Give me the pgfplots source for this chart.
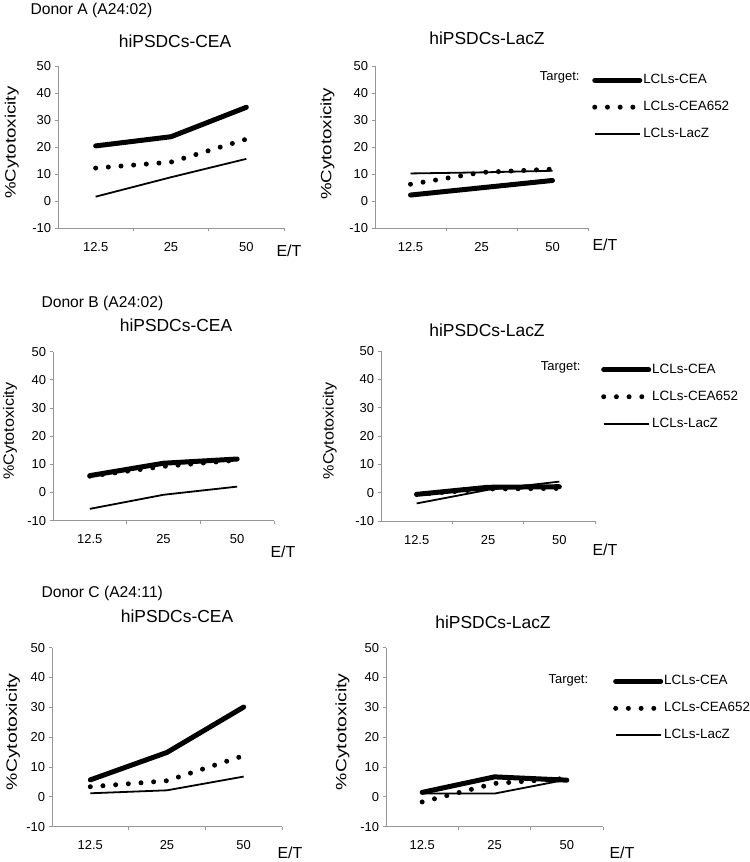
\documentclass[border=0pt]{standalone}
\usepackage{fontspec}
\setmainfont{Liberation Sans}
\usepackage{graphicx}
\usepackage{pgfplots}
\pgfplotsset{compat=1.18}
\definecolor{axgray}{RGB}{150,150,150}

\pgfplotsset{
  panel/.style={
    scale only axis,
    axis lines=left,
    axis line style={-, axgray, line width=0.8bp},
    xmin=0, xmax=3, ymin=-10, ymax=50,
    xtick={0.5,1.5,2.5},
    xticklabels={12.5,25,50},
    minor xtick={1,2,3},
    major x tick style={draw=none},
    minor x tick style={axgray, line width=0.8bp},
    ytick={-10,0,...,50},
    y tick style={axgray, line width=0.8bp},
    tick align=outside,
    major tick length=3.5bp,
    minor tick length=3.5bp,
    /pgf/number format/assume math mode=true,
    tick label style={font=\fontsize{13}{15}\selectfont},
    xticklabel style={yshift=-7bp},
    ylabel style={anchor=center, font=\fontsize{15}{17}\selectfont},
    clip=false,
    legend image code/.code={\draw[##1] (0bp,0bp) -- (45bp,0bp);},
    legend cell align=left,
    legend style={draw=none, fill=none, inner sep=0pt, row sep=12bp,
      nodes={inner sep=1bp, text height=10bp, text depth=3bp,
        font=\fontsize{13.5}{15}\selectfont}},
  },
  cea/.style={black, line width=5bp, line cap=round, line join=round},
  dots/.style={black, line width=5bp, line cap=round, dash pattern=on 0pt off 12.7bp},
  lacz/.style={black, line width=1.8bp, line join=round},
}

\begin{document}
\begin{tikzpicture}[x=1bp,y=1bp]
\useasboundingbox (0bp,0bp) rectangle (750bp,862bp);

% ---------- Donor A ----------
\node[anchor=west, font=\fontsize{15.7}{18}\selectfont] at (27bp,852bp) {Donor A (A24:02)};
\node[font=\fontsize{17.5}{20}\selectfont] at (175bp,821bp) {hiPSDCs-CEA};
\node[font=\fontsize{17.5}{20}\selectfont] at (487bp,824bp) {hiPSDCs-LacZ};

\begin{axis}[panel, at={(58bp,634bp)}, anchor=south west, width=226bp, height=162bp,
  ylabel={\scalebox{1.25}[1]{\%Cytotoxicity}},
  ylabel style={at={(axis description cs:-0.205,0.527)}}]
\addplot[cea]  coordinates {(0.5,20.4) (1.5,23.8) (2.5,34.7)};
\addplot[dots] coordinates {(0.5,12.2) (1.5,14.4) (2.5,22.9)};
\addplot[lacz] coordinates {(0.5,1.6) (1.5,8.8) (2.5,15.6)};
\end{axis}

\begin{axis}[panel, at={(375bp,634bp)}, anchor=south west, width=213bp, height=162bp,
  ylabel={\scalebox{1.25}[1]{\%Cytotoxicity}},
  ylabel style={at={(axis description cs:-0.223,0.52)}},
  legend style={at={(axis description cs:1.019,0.96)}, anchor=north west}]
\addplot[cea]  coordinates {(0.5,2.2) (1.5,4.9) (2.5,7.6)};
\addplot[dots] coordinates {(0.5,6.2) (1.5,10.6) (2.5,11.8)};
\addplot[lacz] coordinates {(0.5,10.2) (1.5,10.6) (2.5,11.2)};
\legend{LCLs-CEA,LCLs-CEA652,LCLs-LacZ}
\end{axis}
\node[anchor=east, font=\fontsize{13}{15}\selectfont] at (583bp,785bp) {Target:};
\node[font=\fontsize{16}{18}\selectfont] at (289bp,611bp) {E/T};
\node[font=\fontsize{16}{18}\selectfont] at (605bp,617bp) {E/T};

% ---------- Donor B ----------
\node[anchor=west, font=\fontsize{15.7}{18}\selectfont] at (38bp,559bp) {Donor B (A24:02)};
\node[font=\fontsize{17.5}{20}\selectfont] at (176bp,537bp) {hiPSDCs-CEA};
\node[font=\fontsize{17.5}{20}\selectfont] at (487bp,532bp) {hiPSDCs-LacZ};

\begin{axis}[panel, at={(53bp,341.3bp)}, anchor=south west, width=221bp, height=169bp,
  ylabel={\scalebox{1.08}[1]{\%Cytotoxicity}},
  ylabel style={at={(axis description cs:-0.195,0.53)}}]
\addplot[cea]  coordinates {(0.5,6.0) (1.5,10.4) (2.5,11.9)};
\addplot[dots] coordinates {(0.5,5.8) (1.5,9.3) (2.5,11.5)};
\addplot[lacz] coordinates {(0.5,-5.8) (1.5,-0.8) (2.5,2.1)};
\end{axis}

\begin{axis}[panel, at={(381bp,341bp)}, anchor=south west, width=214bp, height=170bp,
  ylabel={\scalebox{1.08}[1]{\%Cytotoxicity}},
  ylabel style={at={(axis description cs:-0.24,0.53)}},
  legend style={at={(axis description cs:1.028,0.935)}, anchor=north west}]
\addplot[cea]  coordinates {(0.5,-0.6) (1.5,1.9) (2.5,2.1)};
\addplot[dots] coordinates {(0.5,-0.6) (1.5,1.3) (2.5,1.5)};
\addplot[lacz] coordinates {(0.5,-3.8) (1.5,1.0) (2.5,3.9)};
\legend{LCLs-CEA,LCLs-CEA652,LCLs-LacZ}
\end{axis}
\node[anchor=east, font=\fontsize{13}{15}\selectfont] at (584bp,494.7bp) {Target:};
\node[font=\fontsize{16}{18}\selectfont] at (283bp,310bp) {E/T};
\node[font=\fontsize{16}{18}\selectfont] at (605bp,312bp) {E/T};

% ---------- Donor C ----------
\node[anchor=west, font=\fontsize{15.7}{18}\selectfont] at (38bp,269bp) {Donor C (A24:11)};
\node[font=\fontsize{17.5}{20}\selectfont] at (177bp,246bp) {hiPSDCs-CEA};
\node[font=\fontsize{17.5}{20}\selectfont] at (493bp,240bp) {hiPSDCs-LacZ};

\begin{axis}[panel, at={(52bp,35.3bp)}, anchor=south west, width=230bp, height=179bp,
  ylabel={\scalebox{1.3}[1]{\%Cytotoxicity}},
  ylabel style={at={(axis description cs:-0.17,0.53)}}]
\addplot[cea]  coordinates {(0.5,5.7) (1.5,14.9) (2.5,30.1)};
\addplot[dots] coordinates {(0.5,3.4) (1.5,5.4) (2.5,13.8)};
\addplot[lacz] coordinates {(0.5,1.2) (1.5,2.2) (2.5,6.8)};
\end{axis}

\begin{axis}[panel, at={(386bp,35.3bp)}, anchor=south west, width=217bp, height=179bp,
  ylabel={\scalebox{1.3}[1]{\%Cytotoxicity}},
  ylabel style={at={(axis description cs:-0.2,0.53)}},
  legend style={at={(axis description cs:1.046,0.855)}, anchor=north west}]
\addplot[cea]  coordinates {(0.5,1.5) (1.5,6.7) (2.5,5.6)};
\addplot[dots] coordinates {(0.5,-1.7) (1.5,4.5) (2.5,6.2)};
\addplot[lacz] coordinates {(0.5,1.1) (1.5,1.1) (2.5,5.8)};
\legend{LCLs-CEA,LCLs-CEA652,LCLs-LacZ}
\end{axis}
\node[anchor=east, font=\fontsize{13}{15}\selectfont] at (591.7bp,182bp) {Target:};
\node[font=\fontsize{16}{18}\selectfont] at (290bp,9bp) {E/T};
\node[font=\fontsize{16}{18}\selectfont] at (622bp,9bp) {E/T};

\end{tikzpicture}
\end{document}
